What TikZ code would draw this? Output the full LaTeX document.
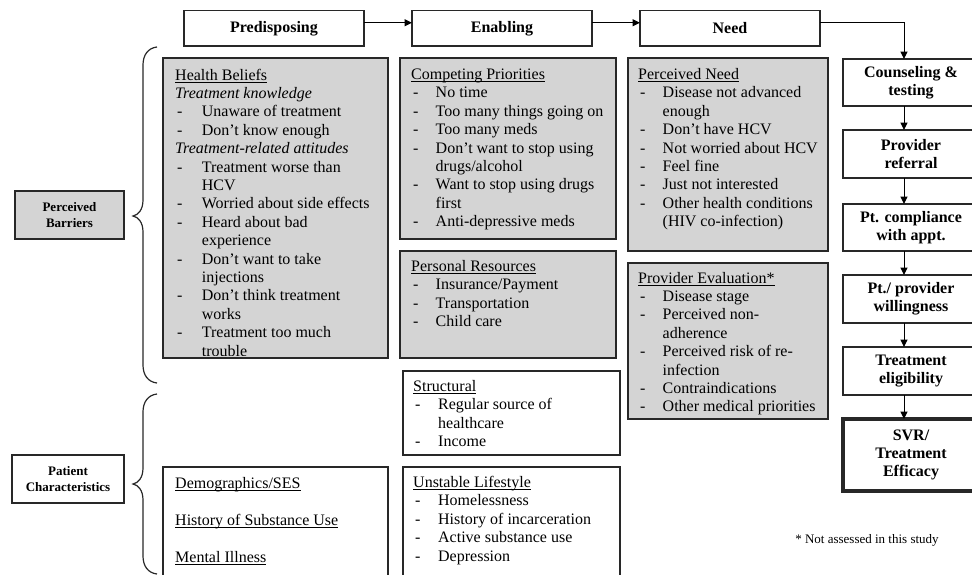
\documentclass[tikz,border=0pt]{standalone}
\usepackage{fontspec}
\setmainfont{Liberation Serif}
\usetikzlibrary{arrows.meta,calc}
\definecolor{boxgray}{RGB}{212,212,212}
\definecolor{edgec}{RGB}{40,40,40}
\newsavebox{\ulnbox}
\newcommand{\uln}[1]{\sbox{\ulnbox}{#1}\rlap{\rule[-2.4pt]{\wd\ulnbox}{0.8pt}}\usebox{\ulnbox}}
\newcommand{\dsh}{\hspace*{2pt}-}
\newcommand{\hdr}[1]{\multicolumn{2}{@{}l@{}}{#1}}
\tikzset{
  box/.style={draw=edgec, line width=1.3pt, inner sep=0pt, outer sep=0pt, anchor=north west},
  gbox/.style={box, fill=boxgray},
  wbox/.style={box, fill=white},
  body/.style={inner sep=0pt, anchor=base west, font=\fontsize{16}{18.4}\selectfont},
  topbox/.style={wbox, minimum width=180pt, minimum height=35.5pt, font=\fontsize{16}{18.4}\selectfont\bfseries},
  rbox/.style={wbox, minimum width=136pt, align=center, font=\fontsize{16}{18.4}\selectfont\bfseries},
  lab/.style={minimum height=48pt, align=center, font=\fontsize{13}{15.5}\selectfont\bfseries},
  arr/.style={draw=black, line width=1pt, -{Triangle[length=7.5pt,width=7pt]}},
  brace/.style={draw=edgec, line width=1.2pt},
  edgeline/.style={draw=edgec, line width=1.3pt},
}
\begin{document}
\begin{tikzpicture}[x=1pt,y=-1pt]
\useasboundingbox (0,0) rectangle (972,574);
\clip (0,0) rectangle (972,574);
\fill[white] (0,0) rectangle (972,574);

% top row
\node[topbox] (pre) at (184,10.5) {Predisposing};
\node[topbox] (enab) at (412,10.5) {Enabling};
\node[topbox] (need) at (640,10.5) {Need};
\draw[arr] ([yshift=5.5pt]pre.east) -- ([yshift=5.5pt]enab.west);
\draw[arr] ([yshift=5.5pt]enab.east) -- ([yshift=5.5pt]need.west);

% right column
\node[rbox, minimum height=47pt] (c1) at (843,59) {Counseling \&\\testing};
\node[rbox, minimum height=48pt] (c2) at (843,130) {Provider\\referral};
\node[rbox, minimum height=47pt] (c3) at (843,204) {Pt. compliance\\with appt.};
\node[rbox, minimum height=48pt] (c4) at (843,275) {Pt./ provider\\willingness};
\node[rbox, minimum height=48pt] (c5) at (843,347) {Treatment\\eligibility};
\node[rbox, minimum height=72pt, line width=4pt] (c6) at (843,419) {SVR/\\Treatment\\Efficacy};
\draw[arr] ([yshift=5.5pt]need.east) -| ([xshift=-7pt]c1.north);
\draw[arr] ([xshift=-7pt]c1.south) -- ([xshift=-7pt]c2.north);
\draw[arr] ([xshift=-7pt]c2.south) -- ([xshift=-7pt]c3.north);
\draw[arr] ([xshift=-7pt]c3.south) -- ([xshift=-7pt]c4.north);
\draw[arr] ([xshift=-7pt]c4.south) -- ([xshift=-7pt]c5.north);
\draw[arr] ([xshift=-7pt]c5.south) -- ([xshift=-7pt]c6.north);

% left labels
\node[gbox, lab, minimum width=109pt] (pb) at (15,191) {Perceived\\Barriers};
\node[wbox, lab, minimum width=112pt] (pc) at (12,455) {Patient\\Characteristics};

% braces
\draw[brace] (157,47) .. controls (148,48) and (143,55) .. (143,65) -- (143,200)
  .. controls (143,210) and (138,215) .. (133,216)
  .. controls (138,217) and (143,222) .. (143,232) -- (143,365)
  .. controls (143,375) and (148,382) .. (157,383);
\draw[brace] (157,394) .. controls (148,395) and (143,402) .. (143,412) -- (143,468)
  .. controls (143,478) and (138,483) .. (133,484)
  .. controls (138,485) and (143,490) .. (143,500) -- (143,556)
  .. controls (143,566) and (148,573) .. (157,574);

% Health beliefs (text clipped at the inner margin)
\node[gbox, draw=none, minimum width=225pt, minimum height=300pt] (hb) at (163,58) {};
\begin{scope}
\clip (hb.north west) rectangle ([yshift=2.5pt]hb.south east);
\node[body] (hbt) at (175,80) {\begin{tabular}[t]{@{}p{26.7pt}@{}l@{}}
\hdr{\uln{Health Beliefs}}\\
\hdr{\textit{Treatment knowledge}}\\
\dsh & Unaware of treatment\\
\dsh & Don’t know enough\\
\hdr{\textit{Treatment-related attitudes}}\\
\dsh & Treatment worse than\\
 & HCV\\
\dsh & Worried about side effects\\
\dsh & Heard about bad\\
 & experience\\
\dsh & Don’t want to take\\
 & injections\\
\dsh & Don’t think treatment\\
 & works\\
\dsh & Treatment too much\\
 & trouble
\end{tabular}};
\end{scope}
\draw[edgeline] (hb.south west) rectangle (hb.north east);

% Competing priorities
\node[gbox, minimum width=216pt, minimum height=181pt] (cp) at (400,58) {};
\node[body] (cpt) at (411,79.5) {\begin{tabular}[t]{@{}p{24.5pt}@{}l@{}}
\hdr{\uln{Competing Priorities}}\\
\dsh & No time\\
\dsh & Too many things going on\\
\dsh & Too many meds\\
\dsh & Don’t want to stop using\\
 & drugs/alcohol\\
\dsh & Want to stop using drugs\\
 & first\\
\dsh & Anti-depressive meds
\end{tabular}};

% Personal resources
\node[gbox, minimum width=216pt, minimum height=107pt] (pr) at (400,251) {};
\node[body] (prt) at (411,271.5) {\begin{tabular}[t]{@{}p{24.5pt}@{}l@{}}
\hdr{\uln{Personal Resources}}\\
\dsh & Insurance/Payment\\
\dsh & Transportation\\
\dsh & Child care
\end{tabular}};

% Structural
\node[wbox, minimum width=217pt, minimum height=84pt] (st) at (403,371) {};
\node[body] (stt) at (413,391.5) {\begin{tabular}[t]{@{}p{25pt}@{}l@{}}
\hdr{\uln{Structural}}\\
\dsh & Regular source of\\
 & healthcare\\
\dsh & Income
\end{tabular}};

% Unstable lifestyle
\node[wbox, minimum width=217pt, minimum height=125pt] (ul) at (403,467) {};
\node[body] (ult) at (413,487.5) {\begin{tabular}[t]{@{}p{25pt}@{}l@{}}
\hdr{\uln{Unstable Lifestyle}}\\
\dsh & Homelessness\\
\dsh & History of incarceration\\
\dsh & Active substance use\\
\dsh & Depression
\end{tabular}};

% Demographics
\node[wbox, minimum width=225pt, minimum height=125pt] (dm) at (163,467) {};
\node[body] (dmt) at (175,488.5) {\begin{tabular}[t]{@{}l@{}}
\uln{Demographics/SES}\\
\\
\uln{History of Substance Use}\\
\\
\uln{Mental Illness}
\end{tabular}};

% Perceived need
\node[gbox, minimum width=200pt, minimum height=193pt] (pn) at (628,58) {};
\node[body] (pnt) at (638,79.5) {\begin{tabular}[t]{@{}p{24.5pt}@{}l@{}}
\hdr{\uln{Perceived Need}}\\
\dsh & Disease not advanced\\
 & enough\\
\dsh & Don’t have HCV\\
\dsh & Not worried about HCV\\
\dsh & Feel fine\\
\dsh & Just not interested\\
\dsh & Other health conditions\\
 & (HIV co-infection)
\end{tabular}};

% Provider evaluation
\node[gbox, minimum width=200pt, minimum height=156pt] (pe) at (628,263) {};
\node[body] (pet) at (638,283) {\begin{tabular}[t]{@{}p{24.5pt}@{}l@{}}
\hdr{\uln{Provider Evaluation*}}\\
\dsh & Disease stage\\
\dsh & Perceived non-\\
 & adherence\\
\dsh & Perceived risk of re-\\
 & infection\\
\dsh & Contraindications\\
\dsh & Other medical priorities
\end{tabular}};

% footnote
\node[font=\fontsize{13}{15}\selectfont, inner sep=0pt] (fn) at (867,540) {* Not assessed in this study};
\end{tikzpicture}
\end{document}
